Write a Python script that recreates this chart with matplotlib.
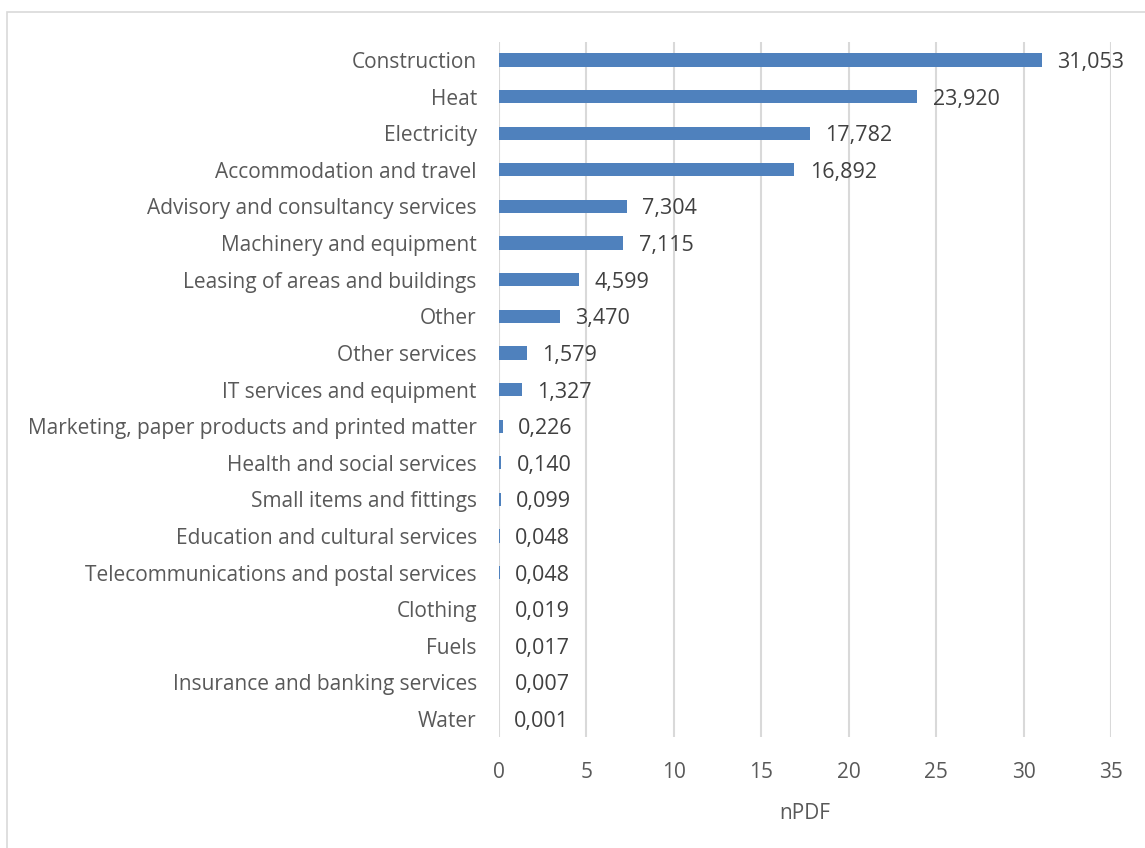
import matplotlib.pyplot as plt
from matplotlib.patches import Rectangle

categories = [
    "Construction", "Heat", "Electricity", "Accommodation and travel",
    "Advisory and consultancy services", "Machinery and equipment",
    "Leasing of areas and buildings", "Other", "Other services",
    "IT services and equipment", "Marketing, paper products and printed matter",
    "Health and social services", "Small items and fittings",
    "Education and cultural services", "Telecommunications and postal services",
    "Clothing", "Fuels", "Insurance and banking services", "Water",
]
values = [31.053, 23.920, 17.782, 16.892, 7.304, 7.115, 4.599, 3.470, 1.579,
          1.327, 0.226, 0.140, 0.099, 0.048, 0.048, 0.019, 0.017, 0.007, 0.001]
xticks = [0, 5, 10, 15, 20, 25, 30, 35]

plt.rcParams['font.family'] = ['Open Sans', 'DejaVu Sans']

fig = plt.figure(figsize=(11.45, 8.48), dpi=100)
ax = fig.add_axes([0.4358, 0.1305, 0.9703 - 0.4358, 0.9508 - 0.1305])

pos = list(range(len(categories)))
ax.barh(pos, values, height=0.36, color="#4F81BD", zorder=3)
ax.set_ylim(len(categories) - 0.5, -0.5)
ax.set_xlim(0, 35)
ax.set_yticks(pos)
ax.set_yticklabels(categories)
ax.set_xticks(xticks)
ax.tick_params(axis="both", length=0, labelsize=15, colors="#595959")
ax.tick_params(axis="y", pad=16)
ax.tick_params(axis="x", pad=18)
ax.grid(axis="x", color="#D9D9D9", linewidth=1.5, zorder=0)
for s in ax.spines.values():
    s.set_visible(False)

for p, v in zip(pos, values):
    ax.annotate(f"{v:.3f}".replace(".", ","), (v, p), xytext=(11, 0),
                textcoords="offset points", va="center_baseline", ha="left",
                fontsize=15.5, color="#404040")

ax.set_xlabel("nPDF", fontsize=15, color="#595959", labelpad=14)

fig.patches.append(Rectangle((7 / 1145, -0.1), 1.2, 1.1 - 12 / 848,
                             transform=fig.transFigure, fill=False,
                             edgecolor="#D9D9D9", linewidth=1.2))

fig.savefig("out.png", dpi=100)
